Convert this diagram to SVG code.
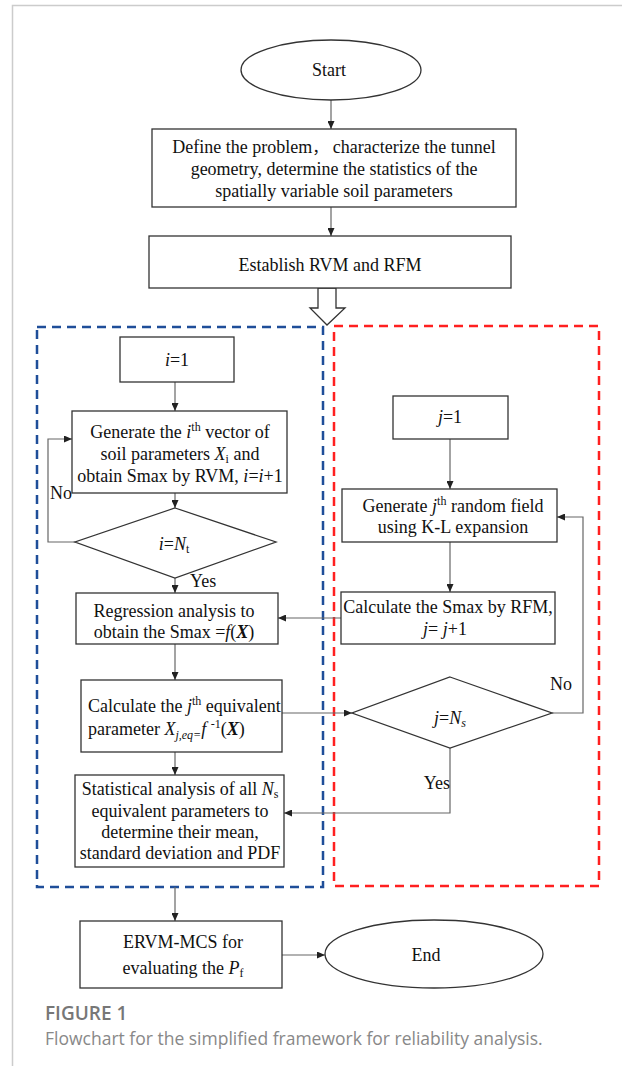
<svg xmlns="http://www.w3.org/2000/svg" width="622" height="1066" viewBox="0 0 622 1066">
<defs>
<marker id="ah" markerWidth="8" markerHeight="7" refX="8" refY="3.5" orient="auto" markerUnits="userSpaceOnUse"><path d="M0,0 L8,3.5 L0,7 z" fill="#222"/></marker>
<style>
.n{fill:#fff;stroke:#333;stroke-width:1.3}
.t{font-family:"Liberation Serif","Times New Roman",serif;font-size:18px;fill:#111}
.m{text-anchor:middle}
.i{font-style:italic}
.b{font-weight:bold;font-style:italic}
.c{fill:none;stroke:#666;stroke-width:1.2}
.ca{fill:none;stroke:#666;stroke-width:1.2;marker-end:url(#ah)}
.frame{fill:none;stroke:#ccc;stroke-width:1.5}
</style>
</defs>
<rect width="622" height="1066" fill="#fff"/>
<path class="frame" d="M622,5.5 H12.5 V1066"/>

<g id="groups">
<rect x="37" y="327" width="286" height="560" fill="none" stroke="#1f4e99" stroke-width="2.5" stroke-dasharray="9 6"/>
<rect x="334" y="326" width="265" height="560" fill="none" stroke="#ff2020" stroke-width="2.5" stroke-dasharray="9 6"/>
</g>

<g id="connectors">
<path class="ca" d="M331,100 V129"/>
<path class="ca" d="M331,207 V236"/>
<path class="ca" d="M175,382 V411"/>
<path class="ca" d="M175,493 V508"/>
<path class="ca" d="M75,542 H48 V439 H72"/>
<path class="ca" d="M175,578 V593"/>
<path class="ca" d="M175,644 V680"/>
<path class="ca" d="M175,752 V775"/>
<path class="ca" d="M450,439 V489"/>
<path class="ca" d="M450,542 V592"/>
<path class="ca" d="M341,618 H278"/>
<path class="ca" d="M282,713 H352"/>
<path class="ca" d="M552,713 H583 V517 H557"/>
<path class="ca" d="M450,748 V813 H284"/>
<path class="ca" d="M175,887 V921"/>
<path class="ca" d="M282,955 H325"/>
<polygon points="318,288 336,288 336,308 345,308 327,325 310,308 318,308" fill="#fff" stroke="#333" stroke-width="1.3"/>
<text class="t" x="50" y="499">No</text>
<text class="t" x="190" y="587">Yes</text>
<text class="t" x="550" y="690">No</text>
<text class="t" x="450" y="789" text-anchor="end">Yes</text>
</g>

<g id="start">
<ellipse class="n" cx="331" cy="70" rx="90" ry="30"/>
<text class="t m" x="329" y="76">Start</text>
</g>

<g id="define">
<rect class="n" x="152" y="129" width="364" height="78"/>
<text class="t m" x="334" y="153">Define the problem<tspan font-family="'Noto Sans CJK SC',sans-serif" font-size="16">，</tspan> characterize the tunnel</text>
<text class="t m" x="334" y="175">geometry, determine the statistics of the</text>
<text class="t m" x="334" y="197">spatially variable soil parameters</text>
</g>

<g id="establish">
<rect class="n" x="149" y="236" width="362" height="52"/>
<text class="t m" x="330" y="271">Establish RVM and RFM</text>
</g>

<g id="i1">
<rect class="n" x="120" y="337" width="114" height="45"/>
<text class="t m" x="177" y="366"><tspan class="i">i</tspan>=1</text>
</g>

<g id="genI">
<rect class="n" x="72" y="411" width="215" height="82"/>
<text class="t m" x="180" y="438">Generate the <tspan class="i">i</tspan><tspan font-size="12" dy="-7">th</tspan><tspan dy="7"> vector of</tspan></text>
<text class="t m" x="180" y="460">soil parameters <tspan class="i">X</tspan><tspan font-size="12" dy="3">i</tspan><tspan dy="-3"> and</tspan></text>
<text class="t m" x="180" y="482">obtain Smax by RVM, <tspan class="i">i</tspan>=<tspan class="i">i</tspan>+1</text>
</g>

<g id="decI">
<polygon class="n" points="175,508 276,542 175,578 75,542"/>
<text class="t m" x="174" y="550"><tspan class="i">i</tspan>=<tspan class="i">N</tspan><tspan font-size="12" dy="3">t</tspan></text>
</g>

<g id="regression">
<rect class="n" x="76" y="593" width="202" height="51"/>
<text class="t m" x="174" y="617">Regression analysis to</text>
<text class="t m" x="174" y="638">obtain the Smax =<tspan class="i">f</tspan>(<tspan class="b">X</tspan>)</text>
</g>

<g id="calcEq">
<rect class="n" x="81" y="680" width="201" height="72"/>
<text class="t" x="88" y="712">Calculate the <tspan class="i">j</tspan><tspan font-size="12" dy="-7">th</tspan><tspan dy="7"> equivalent</tspan></text>
<text class="t" x="88" y="735">parameter <tspan class="i">X</tspan><tspan class="i" font-size="12" dy="4">j,eq=</tspan><tspan class="i" dy="-4">f </tspan><tspan font-size="12" dy="-7">-1</tspan><tspan dy="7">(</tspan><tspan class="b">X</tspan>)</text>
</g>

<g id="stat">
<rect class="n" x="75" y="775" width="209" height="92"/>
<text class="t m" x="180" y="795">Statistical analysis of all <tspan class="i">N</tspan><tspan font-size="12" dy="3">s</tspan></text>
<text class="t m" x="180" y="817">equivalent parameters to</text>
<text class="t m" x="180" y="838">determine their mean,</text>
<text class="t m" x="180" y="859">standard deviation and PDF</text>
</g>

<g id="j1">
<rect class="n" x="393" y="396" width="115" height="43"/>
<text class="t m" x="450" y="423"><tspan class="i">j</tspan>=1</text>
</g>

<g id="genJ">
<rect class="n" x="342" y="489" width="215" height="53"/>
<text class="t m" x="453" y="512">Generate <tspan class="i">j</tspan><tspan font-size="12" dy="-7">th</tspan><tspan dy="7"> random field</tspan></text>
<text class="t m" x="453" y="533">using K-L expansion</text>
</g>

<g id="rfm">
<rect class="n" x="341" y="592" width="214" height="52"/>
<text class="t m" x="448" y="613">Calculate the Smax by RFM,</text>
<text class="t m" x="445" y="635"><tspan class="i">j</tspan>= <tspan class="i">j</tspan>+1</text>
</g>

<g id="decJ">
<polygon class="n" points="450,677 552,713 450,748 352,713"/>
<text class="t m" x="450" y="724"><tspan class="i">j</tspan>=<tspan class="i">N</tspan><tspan class="i" font-size="12" dy="3">s</tspan></text>
</g>

<g id="ervm">
<rect class="n" x="80" y="921" width="202" height="67"/>
<text class="t m" x="183" y="948">ERVM-MCS for</text>
<text class="t m" x="183" y="974">evaluating the <tspan class="i">P</tspan><tspan font-size="12" dy="3">f</tspan></text>
</g>

<g id="end">
<ellipse class="n" cx="434" cy="954" rx="109" ry="34"/>
<text class="t m" x="426" y="961">End</text>
</g>

<g id="caption">
<text x="45" y="1020" font-family="'Open Sans',sans-serif" font-size="19" font-weight="600" fill="#777">FIGURE 1</text>
<text x="45" y="1045" font-family="'Open Sans',sans-serif" font-size="17.5" fill="#888">Flowchart for the simplified framework for reliability analysis.</text>
</g>
</svg>
